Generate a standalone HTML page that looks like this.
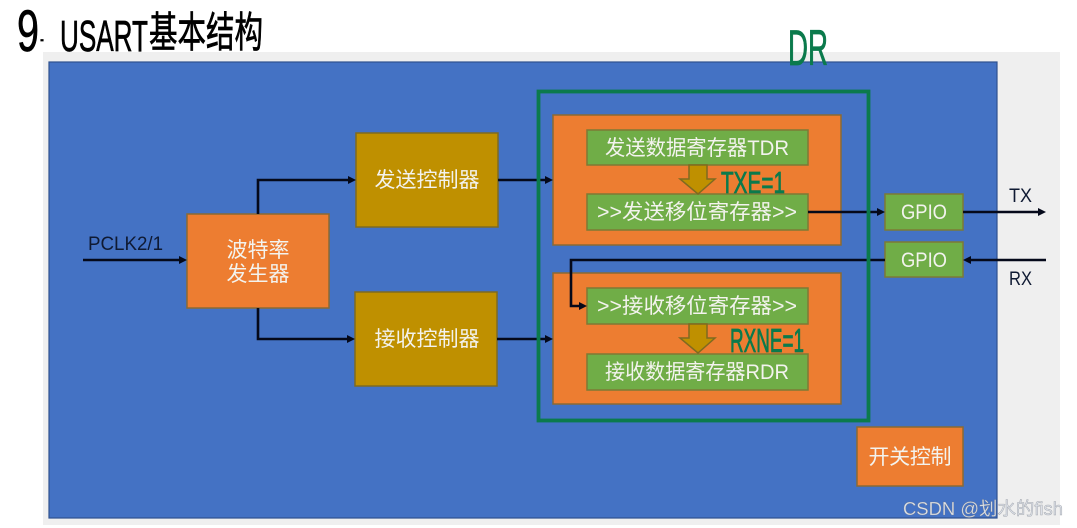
<!DOCTYPE html>
<html><head><meta charset="utf-8"><style>
html,body{margin:0;padding:0;background:#fff;width:1077px;height:528px;overflow:hidden}
svg{display:block}
text{font-family:"Liberation Sans","Noto Sans CJK SC",sans-serif}
.w{fill:#f3f3ee;font-size:21px;text-anchor:middle}
.k{fill:#0f1a33;font-size:19px}
.o{fill:#ed7d31;stroke:#8a6a35;stroke-width:1.5}
.g{fill:#70ad47;stroke:#7d7a35;stroke-width:1.5}
.y{fill:#bf9000;stroke:#7f6a20;stroke-width:1.5}
.l{fill:none;stroke:#05091a;stroke-width:2.6}
.a{fill:#05091a}
.h{fill:#0b7a4c;stroke:#0b7a4c;stroke-width:.8}
.t{fill:#000;stroke:#000;stroke-width:.7}
</style></head><body>
<svg width="1077" height="528" viewBox="0 0 1077 528" xmlns="http://www.w3.org/2000/svg">
<rect x="43" y="52" width="1017" height="473" fill="#efefef"/>
<rect x="49" y="62" width="948" height="456" fill="#4472c4" stroke="#2f528f" stroke-width="1.2"/>

<text class="t" x="17" y="51" style="font-size:58px" textLength="22" lengthAdjust="spacingAndGlyphs">9</text>
<text class="t" x="39" y="41" style="font-size:14px" textLength="6" lengthAdjust="spacingAndGlyphs">.</text>
<text class="t" x="60" y="51" style="font-size:44px" textLength="88" lengthAdjust="spacingAndGlyphs">USART</text>
<text class="t" x="149" y="47" style="font-size:42px" textLength="114" lengthAdjust="spacingAndGlyphs">基本结构</text>

<rect class="o" x="187" y="214" width="142" height="94"/>
<rect class="y" x="356" y="133" width="142" height="94"/>
<rect class="y" x="355" y="292" width="142" height="94"/>
<rect class="o" x="553" y="115" width="288" height="130"/>
<rect class="o" x="553" y="273" width="288" height="131"/>
<rect class="g" x="587" y="130" width="221" height="35"/>
<rect class="g" x="587" y="194" width="221" height="36"/>
<rect class="g" x="587" y="288" width="221" height="36"/>
<rect class="g" x="587" y="354" width="221" height="36"/>
<rect class="g" x="885" y="194" width="78" height="36"/>
<rect class="g" x="885" y="242" width="78" height="35"/>
<rect class="o" x="857" y="427" width="106" height="59"/>

<polygon class="y" points="689,165 707,165 707,179 715,179 698,194 680,179 689,179"/>
<polygon class="y" points="689,324 707,324 707,338 715,338 698,353 680,338 689,338"/>

<path class="l" d="M83 260H181M258 214V180H350M258 308V339H349M498 180H547M497 339H547M808 212H879M963 212H1040M1046 260H969M885 260H571V306H581"/>
<g class="a">
<polygon points="187,260 179,256 179,264"/>
<polygon points="356,180 348,176 348,184"/>
<polygon points="355,339 347,335 347,343"/>
<polygon points="553,180 545,176 545,184"/>
<polygon points="553,339 545,335 545,343"/>
<polygon points="885,212 877,208 877,216"/>
<polygon points="1046,212 1038,208 1038,216"/>
<polygon points="963,260 971,256 971,264"/>
<polygon points="587,306 579,302 579,310"/>
</g>

<rect x="538.5" y="91.5" width="330" height="329" fill="none" stroke="#0b7a4c" stroke-width="3.8"/>

<text class="w" x="258" y="257" textLength="63">波特率</text>
<text class="w" x="258" y="281" textLength="63">发生器</text>
<text class="w" x="427" y="187" textLength="105">发送控制器</text>
<text class="w" x="427" y="346" textLength="105">接收控制器</text>
<text class="w" x="697" y="155" textLength="184" lengthAdjust="spacingAndGlyphs">发送数据寄存器TDR</text>
<text class="w" x="697" y="219" textLength="200" lengthAdjust="spacingAndGlyphs">&gt;&gt;发送移位寄存器&gt;&gt;</text>
<text class="w" x="697" y="313" textLength="200" lengthAdjust="spacingAndGlyphs">&gt;&gt;接收移位寄存器&gt;&gt;</text>
<text class="w" x="697" y="379" textLength="184" lengthAdjust="spacingAndGlyphs">接收数据寄存器RDR</text>
<text class="w" x="924" y="219" textLength="46" lengthAdjust="spacingAndGlyphs">GPIO</text>
<text class="w" x="924" y="267" textLength="46" lengthAdjust="spacingAndGlyphs">GPIO</text>
<text class="w" x="910" y="464" textLength="83">开关控制</text>
<text class="k" x="88" y="250" textLength="75" lengthAdjust="spacingAndGlyphs">PCLK2/1</text>
<text class="k" x="1009" y="202" textLength="23" lengthAdjust="spacingAndGlyphs">TX</text>
<text class="k" x="1009" y="285" textLength="23" lengthAdjust="spacingAndGlyphs">RX</text>

<text class="h" x="788" y="65" style="font-size:50px" textLength="40" lengthAdjust="spacingAndGlyphs">DR</text>
<text class="h" x="721" y="193" style="font-size:31px" textLength="64" lengthAdjust="spacingAndGlyphs">TXE=1</text>
<text class="h" x="730" y="352" style="font-size:33px" textLength="74" lengthAdjust="spacingAndGlyphs">RXNE=1</text>

<text x="903" y="515" style="font-size:18px" fill="#dfe3ea" stroke="#6f7580" stroke-opacity=".55" stroke-width=".5" textLength="160" lengthAdjust="spacingAndGlyphs">CSDN @划水的fish</text>
</svg>
</body></html>
